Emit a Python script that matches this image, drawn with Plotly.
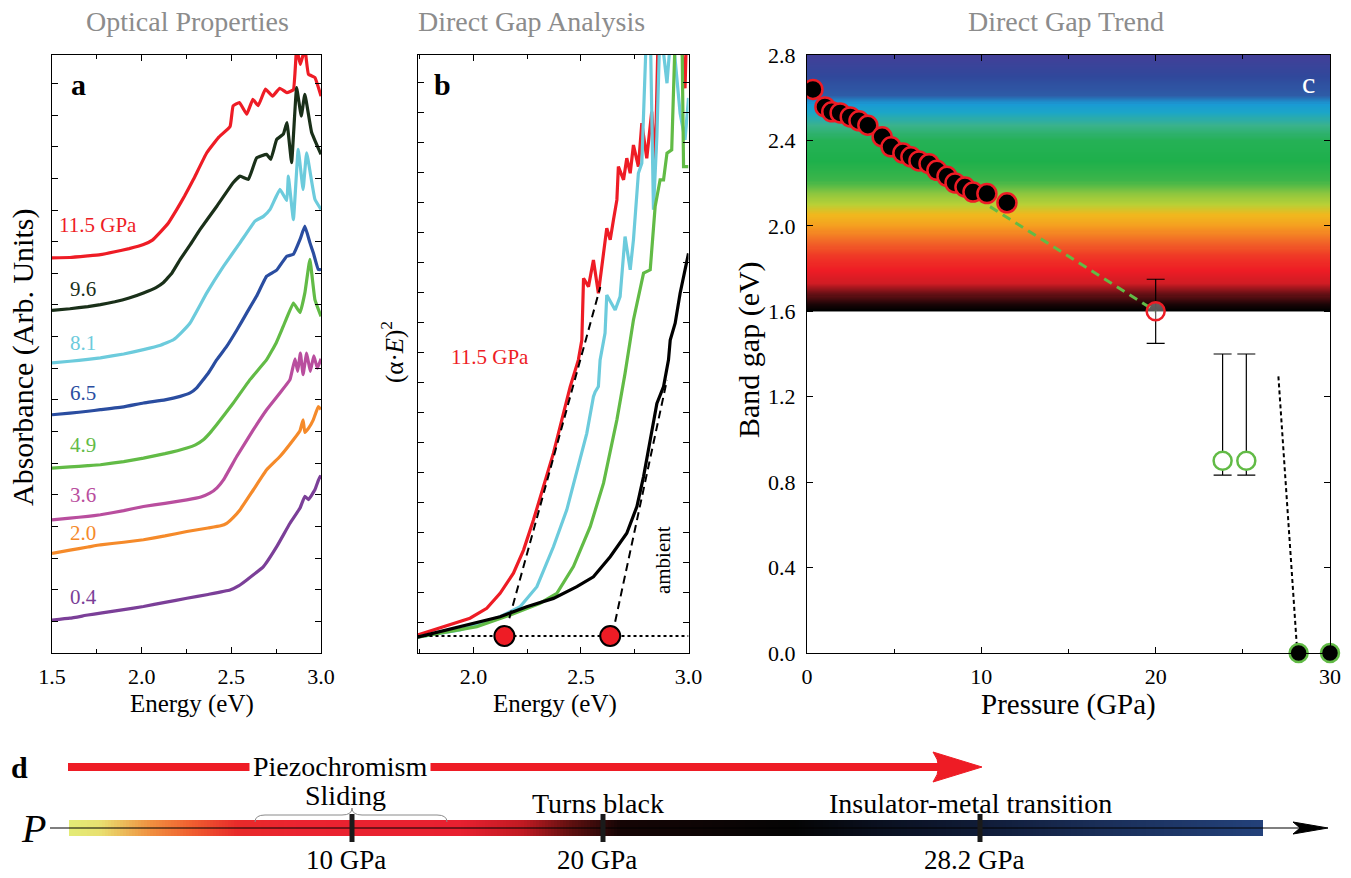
import numpy as np
import plotly.graph_objects as go

W, H = 1351, 878
def px(x): return x / W
def py(y): return 1 - y / H

SERIF = "Liberation Serif, Times New Roman, serif"
RED = "#ee1c25"
GREEN = "#62bb46"

# ---------------- Panel a: absorbance spectra (offset) ----------------
a_labels = ["11.5 GPa", "9.6", "8.1", "6.5", "4.9", "3.6", "2.0", "0.4"]
a_colors = [RED, "#1a3019", "#6ccbdc", "#2a4da0", GREEN, "#b94e9e", "#f58a2a", "#7b3f98"]
a_label_E = [1.758, 1.674, 1.674, 1.674, 1.674, 1.674, 1.674, 1.674]
a_label_A = [13.54, 11.49, 9.81, 8.23, 6.58, 5.0, 3.8, 1.77]

E_115 = [1.50, 1.60, 1.70, 1.77, 1.85, 1.93, 2.01, 2.06, 2.10, 2.15, 2.196, 2.24, 2.289, 2.363, 2.428, 2.493, 2.51,
         2.545, 2.586, 2.62, 2.65, 2.69, 2.73, 2.77, 2.81, 2.846, 2.864, 2.885, 2.91, 2.93, 2.966, 3.0]
A_115 = [12.49, 12.5, 12.55, 12.59, 12.68, 12.78, 12.91, 13.05, 13.28, 13.6, 14.02, 14.45, 14.97, 15.81, 16.29,
         16.64, 17.29, 17.4, 17.03, 17.5, 17.3, 17.82, 17.6, 17.85, 17.71, 17.8, 19.1, 18.6, 19.1, 18.29, 18.19, 17.6]
E_96 = [1.50, 1.60, 1.70, 1.77, 1.85, 1.93, 2.01, 2.08, 2.12, 2.17, 2.215, 2.27, 2.326, 2.419, 2.51, 2.549, 2.595,
        2.641, 2.697, 2.72, 2.753, 2.79, 2.81, 2.836, 2.864, 2.89, 2.91, 2.948, 3.0]
A_96 = [10.83, 10.88, 10.95, 11.01, 11.1, 11.22, 11.38, 11.55, 11.7, 12.02, 12.44, 12.9, 13.39, 14.12, 14.86,
        15.07, 14.97, 15.65, 15.76, 15.6, 16.23, 16.4, 16.76, 15.5, 17.87, 16.97, 17.66, 16.45, 15.76]
E_81 = [1.50, 1.60, 1.70, 1.77, 1.90, 2.01, 2.10, 2.177, 2.22, 2.27, 2.363, 2.456, 2.549, 2.632, 2.679, 2.716,
        2.771, 2.809, 2.818, 2.846, 2.873, 2.90, 2.92, 2.966, 3.0]
A_81 = [9.17, 9.22, 9.28, 9.33, 9.45, 9.59, 9.72, 9.9, 10.12, 10.43, 11.38, 12.22, 12.97, 13.65, 13.8, 14.02,
        14.65, 14.3, 15.07, 13.7, 15.92, 14.65, 15.81, 14.34, 14.02]
E_65 = [1.50, 1.60, 1.70, 1.77, 1.90, 2.01, 2.13, 2.215, 2.27, 2.307, 2.372, 2.419, 2.474, 2.53, 2.586, 2.641,
        2.697, 2.753, 2.809, 2.846, 2.883, 2.91, 2.938, 2.957, 2.985, 3.0]
A_65 = [7.53, 7.58, 7.64, 7.69, 7.78, 7.9, 8.0, 8.11, 8.22, 8.38, 8.85, 9.27, 9.69, 10.2, 10.75, 11.28,
        11.91, 12.1, 12.54, 12.6, 13.07, 13.49, 12.97, 12.65, 12.12, 12.12]
E_49 = [1.50, 1.60, 1.70, 1.77, 1.90, 2.01, 2.13, 2.252, 2.30, 2.344, 2.38, 2.419, 2.511, 2.604, 2.697, 2.75,
        2.79, 2.846, 2.883, 2.91, 2.938, 2.966, 3.0]
A_49 = [5.84, 5.88, 5.92, 5.95, 6.05, 6.16, 6.3, 6.48, 6.58, 6.74, 6.95, 7.22, 7.9, 8.64, 9.27, 9.8,
        10.33, 11.06, 10.76, 11.38, 12.44, 11.17, 10.64]
E_36 = [1.50, 1.60, 1.70, 1.77, 1.90, 2.01, 2.13, 2.252, 2.33, 2.38, 2.42, 2.456, 2.53, 2.623, 2.697, 2.771,
        2.827, 2.855, 2.87, 2.885, 2.90, 2.92, 2.94, 2.96, 2.98, 3.0]
A_36 = [4.21, 4.26, 4.32, 4.37, 4.5, 4.63, 4.73, 4.84, 4.93, 5.05, 5.22, 5.47, 6.21, 7.06, 7.69, 8.22,
        8.64, 9.3, 8.9, 9.48, 8.8, 9.48, 8.9, 9.39, 9.0, 9.3]
E_20 = [1.50, 1.60, 1.70, 1.77, 1.90, 2.01, 2.13, 2.252, 2.37, 2.44, 2.474, 2.51, 2.549, 2.623, 2.697, 2.771,
        2.846, 2.883, 2.90, 2.91, 2.93, 2.957, 2.985, 3.0]
A_20 = [3.15, 3.25, 3.35, 3.42, 3.5, 3.58, 3.7, 3.84, 3.95, 4.02, 4.1, 4.28, 4.53, 5.16, 5.79, 6.21,
        6.74, 7.03, 7.37, 6.97, 7.1, 7.37, 7.79, 7.7]
E_04 = [1.50, 1.60, 1.70, 1.77, 1.90, 2.01, 2.13, 2.252, 2.37, 2.493, 2.54, 2.586, 2.679, 2.753, 2.827, 2.883,
        2.91, 2.93, 2.966, 2.994, 3.0]
A_04 = [1.04, 1.1, 1.2, 1.26, 1.37, 1.47, 1.6, 1.73, 1.85, 1.99, 2.12, 2.31, 2.73, 3.36, 4.1, 4.58,
        4.95, 4.85, 5.16, 5.58, 5.5]
a_series = [(E_115, A_115), (E_96, A_96), (E_81, A_81), (E_65, A_65),
            (E_49, A_49), (E_36, A_36), (E_20, A_20), (E_04, A_04)]

# ---------------- Panel b: (alpha*E)^2 ----------------
b_colors = [RED, "#6ccbdc", GREEN, "#000000"]
bE_red = [1.74, 1.86, 1.984, 2.062, 2.124, 2.186, 2.233, 2.279, 2.326, 2.372, 2.411, 2.45, 2.488, 2.504, 2.512,
          2.535, 2.558, 2.581, 2.62, 2.636, 2.651, 2.667, 2.674, 2.698, 2.713, 2.729, 2.744, 2.767, 2.783, 2.806,
          2.829, 2.845, 2.86, 2.891, 2.93, 2.96, 2.984, 2.992]
bU_red = [0.6, 0.88, 1.16, 1.49, 1.99, 2.66, 3.43, 4.43, 5.54, 6.66, 7.77, 8.88, 9.77, 10.43, 12.49,
          12.21, 13.1, 11.99, 14.16, 13.77, 14.43, 15.1, 16.21, 15.77, 16.49, 15.99, 16.93, 16.21, 17.66, 16.49,
          18.04, 16.21, 21, 21, 21, 21, 18.82, 21]
bE_cyan = [1.74, 1.938, 2.124, 2.217, 2.295, 2.372, 2.434, 2.481, 2.527, 2.558, 2.566, 2.581, 2.589, 2.612, 2.62,
           2.659, 2.682, 2.705, 2.729, 2.744, 2.767, 2.783, 2.806, 2.822, 2.837, 2.853, 2.868, 2.9, 2.922, 2.961,
           2.984, 3.0]
bU_cyan = [0.53, 0.77, 1.21, 1.54, 2.21, 3.54, 4.77, 6.1, 7.32, 8.54, 8.7, 8.88, 9.77, 10.66, 11.93,
           11.43, 11.88, 13.88, 12.77, 13.77, 15.99, 16.32, 21, 21, 14.77, 17.21, 21, 18.99, 21, 17.99,
           17.1, 18.5]
bE_green = [1.74, 2.016, 2.171, 2.31, 2.388, 2.465, 2.543, 2.605, 2.667, 2.705, 2.744, 2.791, 2.822, 2.837, 2.845,
            2.868, 2.884, 2.9, 2.922, 2.94, 2.969, 2.977, 3.0]
bU_green = [0.53, 0.88, 1.27, 1.66, 1.99, 2.88, 4.21, 5.66, 7.77, 9.32, 11.1, 12.66, 12.77, 13.99, 14.88,
            15.77, 15.77, 16.66, 16.77, 21, 21, 16.21, 16.21]
bE_black = [1.74, 1.938, 2.124, 2.248, 2.372, 2.481, 2.558, 2.636, 2.713, 2.76, 2.791, 2.822, 2.853, 2.884, 2.907,
            2.915, 2.938, 2.961, 2.984, 3.0]
bU_black = [0.53, 0.88, 1.21, 1.54, 1.82, 2.21, 2.54, 3.21, 3.99, 4.88, 5.88, 7.1, 8.32, 8.88, 9.77,
            10.43, 10.99, 11.99, 12.77, 13.32]
b_series = [(bE_red, bU_red), (bE_cyan, bU_cyan), (bE_green, bU_green), (bE_black, bU_black)]
fit_red_E = [2.167, 2.59]
fit_red_U = [1.16, 12.2]
fit_black_E = [2.659, 2.90]
fit_black_U = [1.04, 9.1]
baseline_E = [1.74, 3.0]
baseline_U = [0.567, 0.567]
gap_E = [2.144, 2.636]
gap_U = [0.567, 0.567]

# ---------------- Panel c: band gap vs pressure ----------------
P_direct = [0.34, 1.03, 1.42, 1.90, 2.48, 2.98, 3.49, 4.31, 4.82, 5.50, 5.96, 6.42, 7.00, 7.45, 8.03, 8.49,
            9.06, 9.52, 10.32, 11.47]
G_direct = [2.639, 2.557, 2.534, 2.529, 2.510, 2.492, 2.471, 2.417, 2.370, 2.341, 2.323, 2.304, 2.291, 2.260,
            2.232, 2.201, 2.182, 2.158, 2.151, 2.108]
P_extrap = [10.5, 20.0]
G_extrap = [2.09, 1.6]
P_black = [20.0]
G_black = [1.6]
E_black_err = [0.15]
P_green = [23.84, 25.2]
G_green = [0.9, 0.9]
G_green_up = [0.5, 0.5]
G_green_dn = [0.067, 0.067]
P_drop = [27.04, 28.1]
G_drop = [1.295, 0.03]
P_metal = [28.2, 30.0]
G_metal = [0.0, 0.0]
# colour of the visible spectrum band behind the data (gap value -> colour)
spec_gap = [1.60, 1.63, 1.68, 1.73, 1.79, 1.86, 1.93, 2.00, 2.05, 2.10, 2.15, 2.21, 2.30, 2.40, 2.47, 2.53,
            2.57, 2.61, 2.70, 2.80]
spec_col = ["#000000", "#1a0506", "#6a1015", "#d01c24", "#ee1c25", "#ef3a26", "#f26b27", "#f5a020", "#f0b81e",
            "#b8d036", "#8cc63f", "#3db54a", "#1eb04b", "#25b156", "#3ab28c", "#1ba6c8", "#1a9ad4", "#2e5ca7",
            "#30489b", "#433f98"]

# ---------------- Panel d: pressure schematic ----------------
bar_pos = [69, 100, 150, 190, 237, 300, 460, 523, 570, 620, 795, 880, 983, 1100, 1263]
bar_col = ["#e3ec76", "#e8e070", "#f09040", "#f06030", "#e82a2a", "#ea2330", "#e82030", "#c01a22", "#601010",
           "#150505", "#050505", "#0a1020", "#101c38", "#1a2e58", "#23417a"]
stage_pos = [352, 603, 980]
stage_press = ["10 GPa", "20 GPa", "28.2 GPa"]
stage_events = ["Sliding", "Turns black", "Insulator-metal transition"]
event_pos = [(345, 795), (598, 803), (970, 803)]

fig = go.Figure()

# panel a traces
for (E, A), c in zip(a_series, a_colors):
    fig.add_trace(go.Scatter(x=E, y=A, mode="lines", line=dict(color=c, width=3.2, shape="spline", smoothing=0.3),
                             xaxis="x", yaxis="y", hoverinfo="skip", showlegend=False))

# panel b traces
for (E, U), c in zip(b_series, b_colors):
    fig.add_trace(go.Scatter(x=E, y=U, mode="lines", line=dict(color=c, width=3.2),
                             xaxis="x2", yaxis="y2", hoverinfo="skip", showlegend=False))
for E, U in [(fit_red_E, fit_red_U), (fit_black_E, fit_black_U)]:
    fig.add_trace(go.Scatter(x=E, y=U, mode="lines", line=dict(color="black", width=2, dash="8px,5px"),
                             xaxis="x2", yaxis="y2", hoverinfo="skip", showlegend=False))
fig.add_trace(go.Scatter(x=baseline_E, y=baseline_U, mode="lines", line=dict(color="black", width=2, dash="dot"),
                         xaxis="x2", yaxis="y2", hoverinfo="skip", showlegend=False))
fig.add_trace(go.Scatter(x=gap_E, y=gap_U, mode="markers",
                         marker=dict(size=20, color=RED, line=dict(color="black", width=2)),
                         xaxis="x2", yaxis="y2", hoverinfo="skip", showlegend=False))

# panel c traces
sg = np.array(spec_gap)
cs = [[(g - sg[0]) / (sg[-1] - sg[0]), c] for g, c in zip(spec_gap, spec_col)]
grid = np.linspace(spec_gap[0], spec_gap[-1], 241)
fig.add_trace(go.Heatmap(x=[0, 30], y=grid, z=np.column_stack([grid, grid]), colorscale=cs,
                         zmin=spec_gap[0], zmax=spec_gap[-1], showscale=False, hoverinfo="skip",
                         xaxis="x3", yaxis="y3"))
fig.add_trace(go.Scatter(x=P_extrap, y=G_extrap, mode="lines", line=dict(color=GREEN, width=3, dash="9px,6px"),
                         xaxis="x3", yaxis="y3", hoverinfo="skip", showlegend=False))
fig.add_trace(go.Scatter(x=P_direct, y=G_direct, mode="markers",
                         marker=dict(size=19, color="black", line=dict(color=RED, width=2.5)),
                         xaxis="x3", yaxis="y3", hoverinfo="skip", showlegend=False))
fig.add_trace(go.Scatter(x=P_black, y=G_black, mode="markers",
                         error_y=dict(type="data", array=E_black_err, color="black", thickness=1.2, width=9),
                         marker=dict(size=18, color="rgba(255,255,255,0.35)", line=dict(color=RED, width=2.5)),
                         xaxis="x3", yaxis="y3", hoverinfo="skip", showlegend=False, cliponaxis=False))
fig.add_trace(go.Scatter(x=P_green, y=G_green, mode="markers",
                         error_y=dict(type="data", symmetric=False, array=G_green_up, arrayminus=G_green_dn,
                                      color="black", thickness=1.2, width=9),
                         marker=dict(size=18, color="white", line=dict(color=GREEN, width=2.5)),
                         xaxis="x3", yaxis="y3", hoverinfo="skip", showlegend=False))
fig.add_trace(go.Scatter(x=P_drop, y=G_drop, mode="lines", line=dict(color="black", width=2, dash="4px,3px"),
                         xaxis="x3", yaxis="y3", hoverinfo="skip", showlegend=False))
fig.add_trace(go.Scatter(x=P_metal, y=G_metal, mode="markers",
                         marker=dict(size=18, color="black", line=dict(color=GREEN, width=2.5)),
                         xaxis="x3", yaxis="y3", hoverinfo="skip", showlegend=False, cliponaxis=False))

# panel d traces
bp = np.array(bar_pos, dtype=float)
bcs = [[(p - bp[0]) / (bp[-1] - bp[0]), c] for p, c in zip(bar_pos, bar_col)]
bx = np.linspace(bar_pos[0], bar_pos[-1], 400)
bxc = 0.5 * (bx[1:] + bx[:-1])
fig.add_trace(go.Heatmap(x=bx, y=[820, 836], z=[bxc], colorscale=bcs, zmin=bar_pos[0], zmax=bar_pos[-1],
                         showscale=False, hoverinfo="skip", xaxis="x4", yaxis="y4"))
fig.add_trace(go.Scatter(x=[50, 1300], y=[828, 828], mode="lines", line=dict(color="black", width=1.2),
                         xaxis="x4", yaxis="y4", hoverinfo="skip", showlegend=False))
fig.add_trace(go.Scatter(x=stage_pos, y=[828] * len(stage_pos), mode="markers",
                         marker=dict(symbol="line-ns", size=20, line=dict(color="#1a1a1a", width=5)),
                         xaxis="x4", yaxis="y4", hoverinfo="skip", showlegend=False))

tickfont = dict(family=SERIF, size=22, color="black")
common = dict(showline=True, linecolor="black", linewidth=1, mirror="ticks", ticks="inside",
              tickcolor="black", ticklen=6, showgrid=False, zeroline=False, tickfont=tickfont,
              automargin=False)

fig.update_layout(
    template="none",
    width=W, height=H, margin=dict(l=0, r=0, t=0, b=0, pad=0), autosize=False,
    paper_bgcolor="white", plot_bgcolor="white", showlegend=False,
    font=dict(family=SERIF, color="black"),
    xaxis=dict(domain=[px(52), px(321)], range=[1.5, 3.0], anchor="y",
               tickvals=[1.5, 2.0, 2.5, 3.0], ticktext=["1.5", "2.0", "2.5", "3.0"],
               minor=dict(dtick=0.25, tick0=1.5, ticks="inside", ticklen=4, tickcolor="black"),
               ticklabelstandoff=4, **common),
    yaxis=dict(domain=[py(653), py(55)], range=[0, 18.9], anchor="x", dtick=1, tick0=0,
               showticklabels=False, **common),
    xaxis2=dict(domain=[px(417.5), px(688.5)], range=[1.74, 3.0], anchor="y2",
                tickvals=[2.0, 2.5, 3.0], ticktext=["2.0", "2.5", "3.0"],
                minor=dict(dtick=0.25, tick0=1.75, ticks="inside", ticklen=4, tickcolor="black"),
                ticklabelstandoff=4, **common),
    yaxis2=dict(domain=[py(653), py(55)], range=[0, 19.93], anchor="x2", dtick=1, tick0=0,
                showticklabels=False, **common),
    xaxis3=dict(domain=[px(807), px(1330)], range=[0, 30], anchor="y3",
                tickvals=[0, 10, 20, 30], ticktext=["0", "10", "20", "30"],
                minor=dict(dtick=5, tick0=0, ticks="inside", ticklen=4, tickcolor="black"),
                ticklabelstandoff=4, **common),
    yaxis3=dict(domain=[py(653), py(55)], range=[0, 2.8], anchor="x3",
                tickvals=[0, 0.4, 0.8, 1.2, 1.6, 2.0, 2.4, 2.8],
                ticktext=["0.0", "0.4", "0.8", "1.2", "1.6", "2.0", "2.4", "2.8"],
                ticklabelstandoff=6, **common),
    xaxis4=dict(domain=[0, 1], range=[0, W], anchor="y4", visible=False, fixedrange=True, automargin=False),
    yaxis4=dict(domain=[0, py(740)], range=[H, 740], anchor="x4", visible=False, fixedrange=True,
                automargin=False),
)

ann = []
def add_text(text, x, y, size=20, color="black", xref="paper", yref="paper", angle=0, bg=None, **kw):
    d = dict(text=text, x=x, y=y, xref=xref, yref=yref, showarrow=False, textangle=angle,
             font=dict(family=SERIF, size=size, color=color), xanchor="center", yanchor="middle")
    if bg:
        d["bgcolor"] = bg
    d.update(kw)
    ann.append(d)

# titles
add_text("Optical Properties", px(187), py(22), size=28, color="#8c8c8c")
add_text("Direct Gap Analysis", px(531), py(22), size=28, color="#8c8c8c")
add_text("Direct Gap Trend", px(1066), py(22), size=28, color="#8c8c8c")
# axis titles
add_text("Energy (eV)", px(192), py(704), size=25)
add_text("Energy (eV)", px(555), py(704), size=25)
add_text("Pressure (GPa)", px(1068), py(704), size=29)
add_text("Absorbance (Arb. Units)", px(23), py(358), size=30, angle=-90)
add_text("(α·<i>E</i>)<sup>2</sup>", px(392), py(352), size=25, angle=-90)
add_text("Band gap (eV)", px(749), py(350), size=30, angle=-90)
# panel letters
add_text("<b>a</b>", px(78), py(85), size=30)
add_text("<b>b</b>", px(442), py(85), size=30)
add_text("c", px(1308), py(83), size=30, color="white")
add_text("<b>d</b>", px(19), py(767), size=30)
# panel a labels
for t, c, ex, ay in zip(a_labels, a_colors, a_label_E, a_label_A):
    add_text(t, ex, ay, size=21, color=c, xref="x", yref="y")
# panel b labels
add_text("11.5 GPa", 2.077, 9.87, size=21, color=RED, xref="x2", yref="y2")
add_text("ambient", 2.882, 3.1, size=21, color="black", xref="x2", yref="y2", angle=-90)
# panel d texts
add_text("Piezochromism", 340, 766, size=28, xref="x4", yref="y4", bg="white", borderpad=3)
add_text("<i>P</i>", 33, 828, size=40, xref="x4", yref="y4")
for t, p in zip(stage_press, stage_pos):
    add_text(t, p - 6, 860, size=27, xref="x4", yref="y4")
for t, (ex, ey) in zip(stage_events, event_pos):
    add_text(t, ex, ey, size=28, xref="x4", yref="y4")

shapes = [
    dict(type="line", xref="x4", yref="y4", x0=68, y0=767, x1=945, y1=767,
         line=dict(color=RED, width=8), layer="below"),
    dict(type="path", xref="x4", yref="y4", path="M 933 752 L 982 767 L 933 782 Q 944 767 933 752 Z",
         fillcolor=RED, line=dict(color=RED, width=1)),
    dict(type="path", xref="x4", yref="y4",
         path="M 255 822 Q 255 815 265 815 L 342 815 Q 352 815 352 808 Q 352 815 362 815 L 437 815 Q 447 815 447 822",
         line=dict(color="#8a8a8a", width=1)),
    dict(type="path", xref="x4", yref="y4", path="M 1293 822 L 1328 828 L 1293 834 L 1300 828 Z",
         fillcolor="black", line=dict(color="black", width=1)),
]

fig.update_layout(annotations=ann, shapes=shapes)
fig.write_html("out.html", config={"displayModeBar": False},
               post_script="document.body.style.margin='0px';document.body.style.padding='0px';"
                           "document.body.style.overflow='hidden';")
